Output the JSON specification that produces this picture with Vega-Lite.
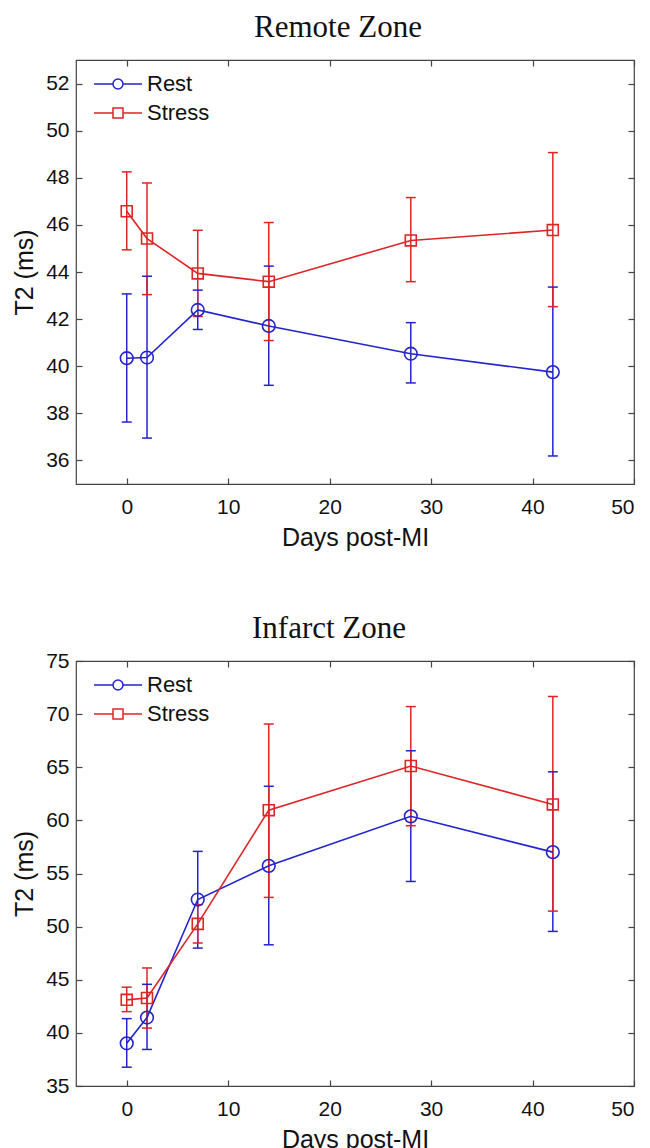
{
  "$schema": "https://vega.github.io/schema/vega-lite/v6.json",
  "background": "white",
  "padding": {"left": 12, "top": 11, "right": 5, "bottom": 0},
  "config": {
    "font": "Liberation Sans",
    "view": {"stroke": "#444444", "strokeWidth": 1.2},
    "axis": {"labelFont": "Liberation Sans", "titleFont": "Liberation Sans", "labelFontSize": 21, "titleFontSize": 25, "titleFontWeight": "normal", "labelColor": "#111111", "titleColor": "#111111", "grid": false, "domain": false, "tickColor": "#444444", "tickWidth": 1.2},
    "title": {"font": "Liberation Serif", "fontSize": 31, "fontWeight": "normal", "color": "#111111"},
    "legend": {"labelFont": "Liberation Sans", "labelFontSize": 22, "labelColor": "#111111", "title": null, "orient": "none", "legendX": 31, "legendY": 13, "symbolSize": 100, "symbolStrokeWidth": 1.5, "symbolOpacity": 1, "symbolFillColor": "transparent", "padding": 0, "rowPadding": 7, "labelOffset": 18}
  },
  "datasets": {
    "remote": [
      {"series": "Rest", "day": 0, "mean": 40.34, "lo": 37.63, "hi": 43.07},
      {"series": "Rest", "day": 2, "mean": 40.37, "lo": 36.95, "hi": 43.82},
      {"series": "Rest", "day": 7, "mean": 42.39, "lo": 41.56, "hi": 43.23},
      {"series": "Rest", "day": 14, "mean": 41.71, "lo": 39.19, "hi": 44.25},
      {"series": "Rest", "day": 28, "mean": 40.53, "lo": 39.29, "hi": 41.85},
      {"series": "Rest", "day": 42, "mean": 39.75, "lo": 36.19, "hi": 43.36},
      {"series": "Stress", "day": 0, "mean": 46.58, "lo": 44.94, "hi": 48.25},
      {"series": "Stress", "day": 2, "mean": 45.42, "lo": 43.04, "hi": 47.78},
      {"series": "Stress", "day": 7, "mean": 43.94, "lo": 42.11, "hi": 45.77},
      {"series": "Stress", "day": 14, "mean": 43.59, "lo": 41.09, "hi": 46.1},
      {"series": "Stress", "day": 28, "mean": 45.34, "lo": 43.59, "hi": 47.16},
      {"series": "Stress", "day": 42, "mean": 45.78, "lo": 42.53, "hi": 49.07}
    ],
    "infarct": [
      {"series": "Rest", "day": 0, "mean": 39.02, "lo": 36.77, "hi": 41.34},
      {"series": "Rest", "day": 2, "mean": 41.44, "lo": 38.44, "hi": 44.57},
      {"series": "Rest", "day": 7, "mean": 52.55, "lo": 47.98, "hi": 57.08},
      {"series": "Rest", "day": 14, "mean": 55.72, "lo": 48.29, "hi": 63.21},
      {"series": "Rest", "day": 28, "mean": 60.38, "lo": 54.25, "hi": 66.55},
      {"series": "Rest", "day": 42, "mean": 57.01, "lo": 49.55, "hi": 64.57},
      {"series": "Stress", "day": 0, "mean": 43.11, "lo": 42.0, "hi": 44.3},
      {"series": "Stress", "day": 2, "mean": 43.28, "lo": 40.45, "hi": 46.11},
      {"series": "Stress", "day": 7, "mean": 50.26, "lo": 48.46, "hi": 52.07},
      {"series": "Stress", "day": 14, "mean": 60.96, "lo": 52.75, "hi": 69.07},
      {"series": "Stress", "day": 28, "mean": 65.12, "lo": 59.5, "hi": 70.71},
      {"series": "Stress", "day": 42, "mean": 61.5, "lo": 51.46, "hi": 71.66}
    ]
  },
  "spacing": 61,
  "resolve": {"scale": {"color": "independent", "shape": "independent"}, "legend": {"color": "independent", "shape": "independent"}},
  "vconcat": [
    {
      "title": {"text": "Remote Zone", "offset": 15, "dx": -17},
      "width": 558,
      "height": 424,
      "data": {"name": "remote"},
      "resolve": {"axis": {"x": "independent", "y": "independent"}},
      "layer": [
        {
          "mark": {"type": "rule", "strokeWidth": 1.5},
          "encoding": {
            "x": {"field": "day", "type": "quantitative", "scale": {"domain": [-5, 50], "nice": false, "zero": false}, "axis": {"orient": "bottom", "ticks": false, "values": [0, 10, 20, 30, 40, 50], "labelPadding": 12, "title": "Days post-MI", "titlePadding": 8}},
            "y": {"field": "lo", "type": "quantitative", "scale": {"domain": [35, 53], "nice": false, "zero": false}, "axis": {"orient": "left", "ticks": false, "values": [36, 38, 40, 42, 44, 46, 48, 50, 52], "labelPadding": 7, "title": "T2 (ms)", "titlePadding": 8}},
            "y2": {"field": "hi"},
            "color": {"field": "series", "type": "nominal", "scale": {"domain": ["Rest", "Stress"], "range": ["#2424cc", "#dd2525"]}}
          }
        },
        {
          "mark": {"type": "point", "shape": "stroke", "filled": false, "size": 100, "strokeWidth": 1.5, "opacity": 1},
          "encoding": {
            "x": {"field": "day", "type": "quantitative", "axis": {"orient": "bottom", "labels": false, "title": null, "tickSize": -6, "values": [0, 10, 20, 30, 40, 50]}},
            "y": {"field": "lo", "type": "quantitative", "axis": {"orient": "left", "labels": false, "title": null, "tickSize": -6, "values": [36, 38, 40, 42, 44, 46, 48, 50, 52]}},
            "color": {"field": "series", "type": "nominal"}
          }
        },
        {
          "mark": {"type": "point", "shape": "stroke", "filled": false, "size": 100, "strokeWidth": 1.5, "opacity": 1},
          "encoding": {
            "x": {"field": "day", "type": "quantitative", "axis": {"orient": "top", "labels": false, "title": null, "tickSize": -6, "values": [0, 10, 20, 30, 40, 50]}},
            "y": {"field": "hi", "type": "quantitative", "axis": {"orient": "right", "labels": false, "title": null, "tickSize": -6, "values": [36, 38, 40, 42, 44, 46, 48, 50, 52]}},
            "color": {"field": "series", "type": "nominal"}
          }
        },
        {
          "mark": {"type": "line", "strokeWidth": 1.6},
          "encoding": {
            "x": {"field": "day", "type": "quantitative", "axis": null},
            "y": {"field": "mean", "type": "quantitative", "axis": null},
            "color": {"field": "series", "type": "nominal"}
          }
        },
        {
          "transform": [{"filter": "datum.series === 'Rest'"}],
          "mark": {"type": "point", "shape": "circle", "filled": false, "size": 160, "strokeWidth": 1.6, "opacity": 1},
          "encoding": {
            "x": {"field": "day", "type": "quantitative", "axis": null},
            "y": {"field": "mean", "type": "quantitative", "axis": null},
            "color": {"field": "series", "type": "nominal"}
          }
        },
        {
          "transform": [{"filter": "datum.series === 'Stress'"}],
          "mark": {"type": "point", "shape": "square", "filled": false, "size": 120, "strokeWidth": 1.6, "opacity": 1},
          "encoding": {
            "x": {"field": "day", "type": "quantitative", "axis": null},
            "y": {"field": "mean", "type": "quantitative", "axis": null},
            "color": {"field": "series", "type": "nominal"}
          }
        },
        {
          "mark": {"type": "point", "filled": false, "opacity": 0},
          "encoding": {
            "x": {"field": "day", "type": "quantitative", "axis": null},
            "y": {"field": "mean", "type": "quantitative", "axis": null},
            "color": {"field": "series", "type": "nominal"},
            "shape": {"field": "series", "type": "nominal", "scale": {"domain": ["Rest", "Stress"], "range": ["M-4.8,0H-1A1,1 0 1 1 1,0H4.8M1,0A1,1 0 1 1 -1,0", "M-4.8,0H-1V-1H1V1H-1V0M1,0H4.8"]}}
          }
        }
      ]
    },
    {
      "title": {"text": "Infarct Zone", "offset": 5, "dx": -26},
      "width": 558,
      "height": 425,
      "data": {"name": "infarct"},
      "resolve": {"axis": {"x": "independent", "y": "independent"}},
      "layer": [
        {
          "mark": {"type": "rule", "strokeWidth": 1.5},
          "encoding": {
            "x": {"field": "day", "type": "quantitative", "scale": {"domain": [-5, 50], "nice": false, "zero": false}, "axis": {"orient": "bottom", "ticks": false, "values": [0, 10, 20, 30, 40, 50], "labelPadding": 12, "title": "Days post-MI", "titlePadding": 8}},
            "y": {"field": "lo", "type": "quantitative", "scale": {"domain": [35, 75], "nice": false, "zero": false}, "axis": {"orient": "left", "ticks": false, "values": [35, 40, 45, 50, 55, 60, 65, 70, 75], "labelPadding": 7, "title": "T2 (ms)", "titlePadding": 8}},
            "y2": {"field": "hi"},
            "color": {"field": "series", "type": "nominal", "scale": {"domain": ["Rest", "Stress"], "range": ["#2424cc", "#dd2525"]}}
          }
        },
        {
          "mark": {"type": "point", "shape": "stroke", "filled": false, "size": 100, "strokeWidth": 1.5, "opacity": 1},
          "encoding": {
            "x": {"field": "day", "type": "quantitative", "axis": {"orient": "bottom", "labels": false, "title": null, "tickSize": -6, "values": [0, 10, 20, 30, 40, 50]}},
            "y": {"field": "lo", "type": "quantitative", "axis": {"orient": "left", "labels": false, "title": null, "tickSize": -6, "values": [35, 40, 45, 50, 55, 60, 65, 70, 75]}},
            "color": {"field": "series", "type": "nominal"}
          }
        },
        {
          "mark": {"type": "point", "shape": "stroke", "filled": false, "size": 100, "strokeWidth": 1.5, "opacity": 1},
          "encoding": {
            "x": {"field": "day", "type": "quantitative", "axis": {"orient": "top", "labels": false, "title": null, "tickSize": -6, "values": [0, 10, 20, 30, 40, 50]}},
            "y": {"field": "hi", "type": "quantitative", "axis": {"orient": "right", "labels": false, "title": null, "tickSize": -6, "values": [35, 40, 45, 50, 55, 60, 65, 70, 75]}},
            "color": {"field": "series", "type": "nominal"}
          }
        },
        {
          "mark": {"type": "line", "strokeWidth": 1.6},
          "encoding": {
            "x": {"field": "day", "type": "quantitative", "axis": null},
            "y": {"field": "mean", "type": "quantitative", "axis": null},
            "color": {"field": "series", "type": "nominal"}
          }
        },
        {
          "transform": [{"filter": "datum.series === 'Rest'"}],
          "mark": {"type": "point", "shape": "circle", "filled": false, "size": 160, "strokeWidth": 1.6, "opacity": 1},
          "encoding": {
            "x": {"field": "day", "type": "quantitative", "axis": null},
            "y": {"field": "mean", "type": "quantitative", "axis": null},
            "color": {"field": "series", "type": "nominal"}
          }
        },
        {
          "transform": [{"filter": "datum.series === 'Stress'"}],
          "mark": {"type": "point", "shape": "square", "filled": false, "size": 120, "strokeWidth": 1.6, "opacity": 1},
          "encoding": {
            "x": {"field": "day", "type": "quantitative", "axis": null},
            "y": {"field": "mean", "type": "quantitative", "axis": null},
            "color": {"field": "series", "type": "nominal"}
          }
        },
        {
          "mark": {"type": "point", "filled": false, "opacity": 0},
          "encoding": {
            "x": {"field": "day", "type": "quantitative", "axis": null},
            "y": {"field": "mean", "type": "quantitative", "axis": null},
            "color": {"field": "series", "type": "nominal"},
            "shape": {"field": "series", "type": "nominal", "scale": {"domain": ["Rest", "Stress"], "range": ["M-4.8,0H-1A1,1 0 1 1 1,0H4.8M1,0A1,1 0 1 1 -1,0", "M-4.8,0H-1V-1H1V1H-1V0M1,0H4.8"]}}
          }
        }
      ]
    }
  ]
}
